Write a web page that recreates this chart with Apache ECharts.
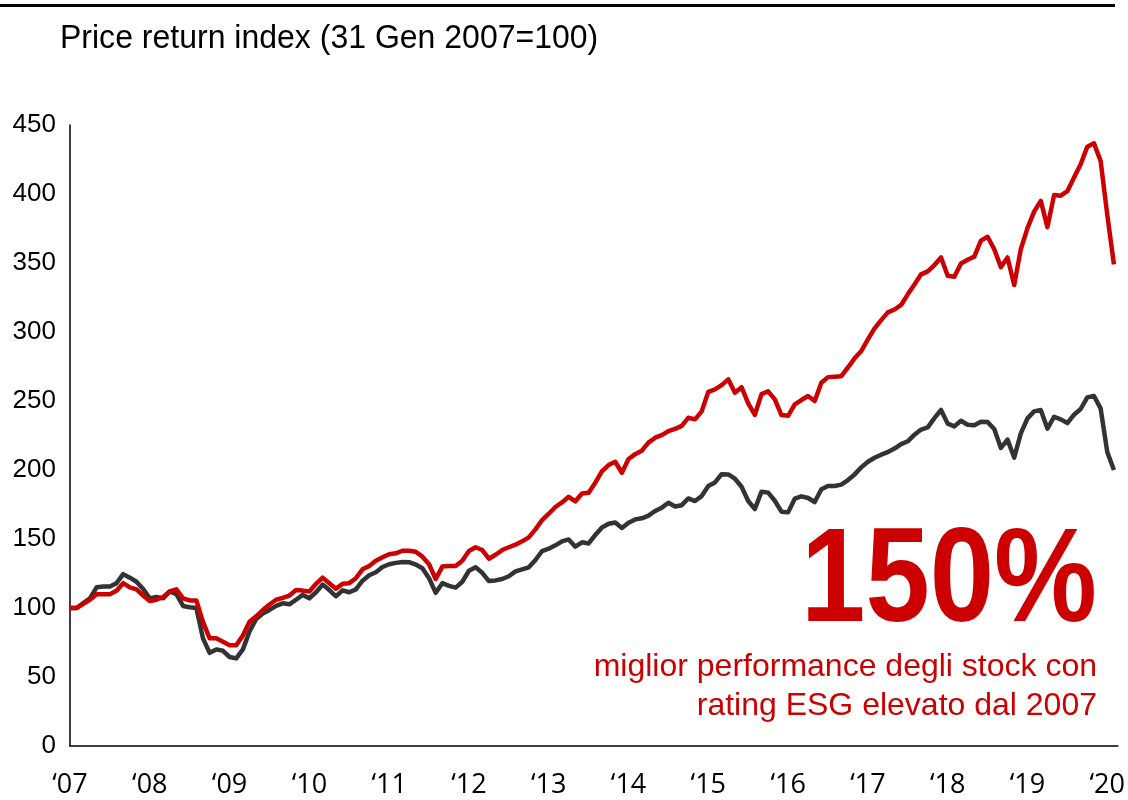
<!DOCTYPE html>
<html>
<head>
<meta charset="utf-8">
<script src="https://cdn.jsdelivr.net/npm/echarts@6/dist/echarts.min.js"></script>
<style>html,body{margin:0;padding:0;background:#fff}#c{width:1128px;height:800px}</style>
</head>
<body>
<div id="c"></div>
<script>
// Month index 0 = 31 Jan 2007
const yearLabels = ['‘07','‘08','‘09','‘10','‘11','‘12','‘13','‘14','‘15','‘16','‘17','‘18','‘19','‘20'];
const yTicks = [0,50,100,150,200,250,300,350,400,450];

const esgHigh = [
100,100,103,106,110,110,110,112.5,118,115,113.5,109,
105,106,108,112,113.5,107,105.5,105.5,90,78,78,75.5,
73,73,80,90,94,98.5,102.5,106,107.3,109,113,112.6,
112,117.5,122,118,114,117.5,118,121.6,128,130.5,134.3,136.8,
139,139.6,141.5,141.5,140.8,137.2,131.7,121,130,130.5,130.5,134.3,
141.3,144,142,135.7,138.6,142,144,145.9,148.3,151.2,157,163.7,
168.3,173.2,176.5,180.6,177.3,183,183.5,190.8,199,203.6,206,198,
208,211.5,214,219.8,223.4,225.3,228.2,229.8,232,237.9,236.7,242.5,
256.7,258.4,261.5,265.7,256,260,248.3,240,255,257,251.2,239.8,
239.3,247.5,250.7,253.6,250,263.2,267.3,267.6,268,274.3,280.9,286.2,
294.6,302.6,308.6,314.2,316.3,319.6,327.3,334.5,341.8,343.9,348.5,354,
340.8,340,349.7,352.4,354.6,366.2,369,360,347,354,334,360,
375.3,387.2,395,376,399.2,398.8,402,412,421.5,434.3,436.7,424,
385,349
];
const market = [
100,100,103.5,107,115,115.5,115.5,118,124.5,122,119,113.8,
107,108,107,112,110,101.5,100.5,100,78,67.5,70,69,
64.5,63.5,70,83,92,96,98.6,101.5,103.4,102.7,106,109.5,
107,111.4,117,113,108.5,112.8,111.4,113.5,119.8,123.7,125.9,129.7,
131.7,132.7,133.4,133.2,131.5,128.8,121.6,111,118,116,114.8,119,
127,129.5,125.5,119.5,120,121,123,126.5,128,129.5,134.8,141.3,
143,145.4,148.3,149.7,144.4,147.6,146.8,152.9,158.4,161,162,158,
161.8,164.2,165,166.9,170.3,172.7,176.3,173.6,174.5,179.4,177.5,181.1,
188.4,191,197,196.8,193.7,187.9,177.5,171.7,184.3,183.6,177.7,169.8,
169.3,179.2,180.9,179.7,176.8,186,188.4,188.4,189.4,192.7,196.8,201.9,
206,208.9,211.1,213,215.5,218.8,220.8,225.6,229.3,230.9,237.6,243.5,
233.6,231.6,235.7,232.8,232.4,235,234.7,229.7,216,222,209,226.6,
237.4,242.5,243.5,230,238.6,236.7,234,240.1,244.2,252.6,253.6,244.7,
213,200
];

const toPairs = arr => arr.map((v, i) => [i, v]);
const FONT = 'Liberation Sans, Arial, sans-serif';

const chart = echarts.init(document.getElementById('c'), null, {renderer: 'canvas'});
chart.setOption({
  animation: false,
  backgroundColor: '#ffffff',
  grid: {left: 70, right: 9, top: 125, bottom: 54, containLabel: false},
  xAxis: {
    type: 'value', min: 0, max: 157.6, interval: 12,
    axisLine: {show: true, lineStyle: {color: '#000', width: 1.5}},
    axisTick: {show: false},
    splitLine: {show: false},
    axisLabel: {
      showMaxLabel: false,
      margin: 26,
      fontFamily: 'Open Sans', fontSize: 27, color: '#000',
      formatter: v => yearLabels[Math.round(v / 12)] || ''
    }
  },
  yAxis: {
    type: 'value', min: 0, max: 450, interval: 50,
    axisLine: {show: true, lineStyle: {color: '#000', width: 1.5}},
    axisTick: {show: false},
    splitLine: {show: false},
    axisLabel: {
      margin: 14,
      fontFamily: FONT, fontSize: 26, color: '#000',
      formatter: v => (yTicks.indexOf(v) >= 0 ? String(v) : '')
    }
  },
  series: [
    {name: 'Mercato', type: 'line', data: toPairs(market), symbol: 'none',
     lineStyle: {color: '#333333', width: 4.5, join: 'round'}, z: 2},
    {name: 'ESG elevato', type: 'line', data: toPairs(esgHigh), symbol: 'none',
     lineStyle: {color: '#cc0000', width: 4.5, join: 'round'}, z: 3}
  ],
  graphic: [
    {type: 'rect', shape: {x: 0, y: 4, width: 1115, height: 3}, style: {fill: '#000'}},
    {type: 'text', x: 60, y: 39, scaleX: 0.97,
     style: {text: 'Price return index (31 Gen 2007=100)', fontFamily: FONT,
             fontSize: 33, fill: '#000', align: 'left', verticalAlign: 'middle'}},
    {type: 'text', x: 1097, y: 584, scaleX: 0.87,
     style: {text: '150%', fontFamily: FONT,
             fontWeight: 'bold', fontSize: 133, fill: '#cc0000', align: 'right', verticalAlign: 'middle'}},
    {type: 'text', x: 1097, y: 667,
     style: {text: 'miglior performance degli stock con', fontFamily: FONT,
             fontSize: 32, fill: '#cc0000', align: 'right', verticalAlign: 'middle'}},
    {type: 'text', x: 1097, y: 706,
     style: {text: 'rating ESG elevato dal 2007', fontFamily: FONT,
             fontSize: 32, fill: '#cc0000', align: 'right', verticalAlign: 'middle'}}
  ]
});
</script>
</body>
</html>
